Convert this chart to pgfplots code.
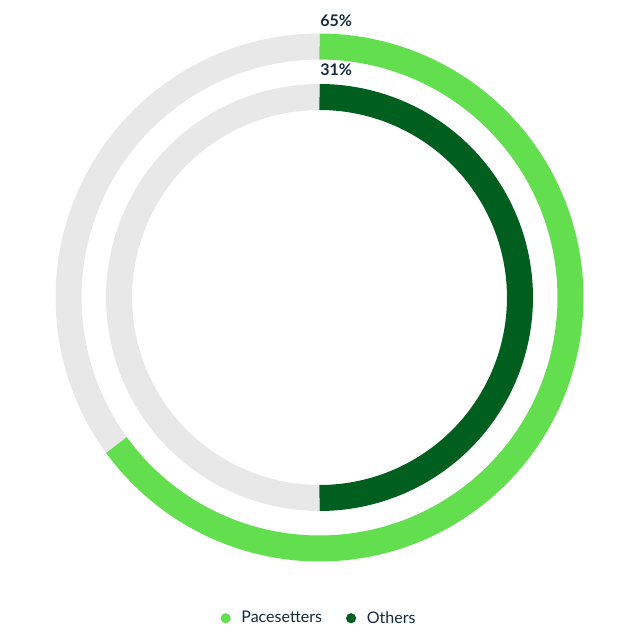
\documentclass[border=0pt]{standalone}
\usepackage{fontspec}
\setmainfont{Lato}
\usepackage{pgfplots}
\usepackage{pgfplotstable}
\pgfplotsset{compat=1.18}

\definecolor{pace}{HTML}{63DE4F}
\definecolor{others}{HTML}{005F1F}
\definecolor{track}{HTML}{E8E8E8}
\definecolor{labelc}{HTML}{14293D}

% sweep = angle of the coloured arc, clockwise from the top (degrees)
\pgfplotstableread{
series      radius sweep label
Pacesetters 251    234   65
Others      200.5  180   31
}\rings

\pgfplotstablegetelem{0}{radius}\of\rings \let\rA\pgfplotsretval
\pgfplotstablegetelem{0}{sweep}\of\rings  \let\sA\pgfplotsretval
\pgfplotstablegetelem{0}{label}\of\rings  \let\lA\pgfplotsretval
\pgfplotstablegetelem{1}{radius}\of\rings \let\rB\pgfplotsretval
\pgfplotstablegetelem{1}{sweep}\of\rings  \let\sB\pgfplotsretval
\pgfplotstablegetelem{1}{label}\of\rings  \let\lB\pgfplotsretval

\begin{document}
\begin{tikzpicture}
\begin{axis}[
  width=480pt, height=480pt, scale only axis,
  xmin=0, xmax=640, ymin=0, ymax=640,
  hide axis, clip=false,
  line cap=butt, line join=round,
  legend columns=2,
  legend style={at={(0.499,0.034)}, anchor=center, draw=none, fill=none,
    font=\fontsize{12}{14}\selectfont\color{labelc},
    /tikz/every odd column/.append style={column sep=6pt},
    /tikz/every even column/.append style={column sep=16pt}},
  legend image code/.code={\fill[draw=none] (0.2em,0pt) circle (3.8pt);},
]
% keep the full 640 x 640 frame as the picture
\path (axis cs:0,0) rectangle (axis cs:640,640);
% grey tracks
\addplot[track, line width=19.5pt, samples=60, domain=\sA:360, variable=\t, forget plot]
  ({319.5+\rA*sin(\t)}, {342.5+\rA*cos(\t)});
\addplot[track, line width=19.5pt, samples=60, domain=\sB:360, variable=\t, forget plot]
  ({319.5+\rB*sin(\t)}, {342.5+\rB*cos(\t)});
% coloured arcs
\addplot[pace, line width=19.5pt, samples=120, domain=0:\sA, variable=\t]
  ({319.5+\rA*sin(\t)}, {342.5+\rA*cos(\t)});
\addlegendentry{Pacesetters}
\addplot[others, line width=19.5pt, samples=120, domain=0:\sB, variable=\t]
  ({319.5+\rB*sin(\t)}, {342.5+\rB*cos(\t)});
\addlegendentry{Others}
% value labels
\node[anchor=base west, inner sep=0pt, text=labelc, font=\bfseries\fontsize{12}{14}\selectfont]
  at (axis cs:320,613) {\lA\%};
\node[anchor=base west, inner sep=0pt, text=labelc, font=\bfseries\fontsize{12}{14}\selectfont]
  at (axis cs:320,564) {\lB\%};
\end{axis}
\end{tikzpicture}
\end{document}
